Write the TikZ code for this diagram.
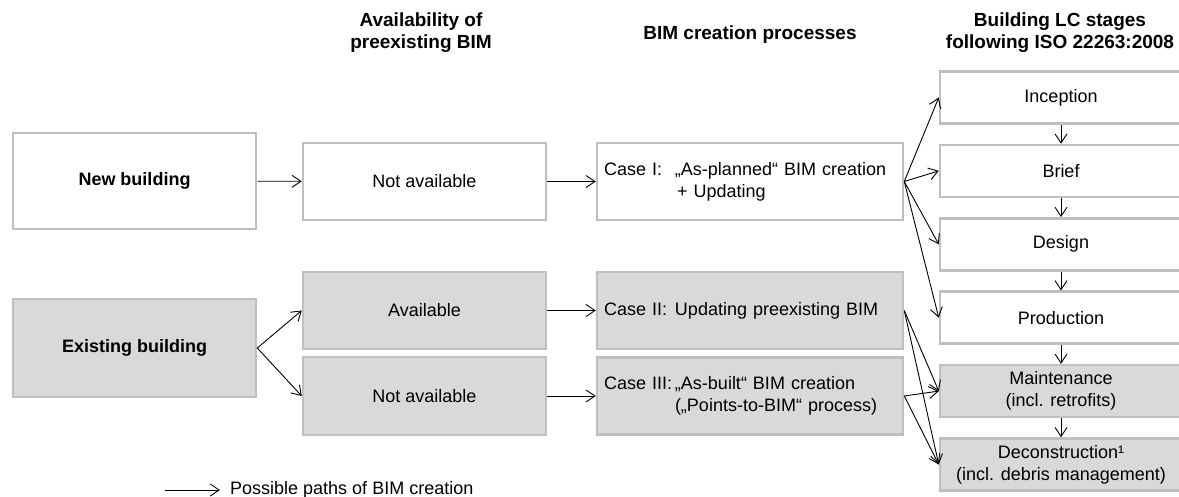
\documentclass[tikz,border=0pt]{standalone}
\usepackage{fontspec}
\setmainfont{Liberation Sans}
\usetikzlibrary{arrows.meta}

\newcommand{\caselabel}[1]{\makebox[71pt][l]{#1}}

\begin{document}
\begin{tikzpicture}[x=1pt, y=-1pt,
box_style/.style={rectangle, draw=gray!50, line width=2.5pt, fill=white, align=center, font=\fontsize{18}{22}\selectfont},
case_style/.style={box_style, align=left, text width=292pt, inner xsep=7pt, minimum height=77pt},
head_style/.style={align=center, font=\fontsize{19}{22}\selectfont\bfseries},
edge_style/.style={-{Straight Barb[length=9pt,width=12pt]}, line width=0.9pt, black},
]
\useasboundingbox (0,0) rectangle (1179,497);

% column headers
\node[head_style] at (421,33) (head_avail) {Availability of\\preexisting BIM};
\node[head_style] at (750,35) (head_case) {BIM creation processes};
\node[head_style] at (1060,33) (head_stage) {Building LC stages\\following ISO 22263:2008};

% building type
\node[box_style, minimum width=243pt, minimum height=96pt] at (134.5,181) (new_bldg) {\bfseries New building};
\node[box_style, fill=gray!30, minimum width=243pt, minimum height=98pt] at (134.5,348) (exist_bldg) {\bfseries Existing building};

% availability
\node[box_style, minimum width=243pt, minimum height=77pt] at (424.5,181.5) (na_new) {Not available};
\node[box_style, fill=gray!30, minimum width=243pt, minimum height=77pt] at (424.5,310.5) (avail) {Available};
\node[box_style, fill=gray!30, minimum width=243pt, minimum height=78pt] at (424.5,396) (na_exist) {Not available};

% creation processes
\node[case_style] at (750,181.5) (case_one) {\mbox{\caselabel{Case I:}„As-planned“ BIM creation}\\\hspace*{73pt}+ Updating};
\node[case_style, fill=gray!30] at (750,310.5) (case_two) {\mbox{\caselabel{Case II:}Updating preexisting BIM}};
\node[case_style, fill=gray!30] at (750,396) (case_three) {\mbox{\caselabel{Case III:}„As-built“ BIM creation}\\\hspace*{71pt}(„Points-to-BIM“ process)};

% life cycle stages
\foreach \name/\txt/\fc [count=\i from 0] in {
    inception/Inception/white,
    brief/Brief/white,
    design/Design/white,
    production/Production/white,
    maint/{Maintenance\\(incl. retrofits)}/gray!30,
    decon/{Deconstruction¹\\(incl. debris management)}/gray!30}{
    \node[box_style, fill=\fc, minimum width=242pt, minimum height=52pt] at (1061,97.5+73.4*\i) (\name) {\txt};
}

% paths
\draw[edge_style] (new_bldg) -- (na_new);
\draw[edge_style] (na_new) -- (case_one);
\draw[edge_style] (exist_bldg.east) -- (avail.west);
\draw[edge_style] (exist_bldg.east) -- (na_exist.west);
\draw[edge_style] (avail) -- (case_two);
\draw[edge_style] (na_exist) -- (case_three);

\foreach \s in {inception,brief,design,production}
    \draw[edge_style] (case_one.east) -- (\s.west);
\foreach \c in {case_two,case_three}{
    \draw[edge_style] (\c.east) -- (maint.west);
    \draw[edge_style] (\c.east) -- (decon.west);
}

\draw[edge_style] (inception) -- (brief);
\draw[edge_style] (brief) -- (design);
\draw[edge_style] (design) -- (production);
\draw[edge_style] (production) -- (maint);
\draw[edge_style] (maint) -- (decon);

% legend
\coordinate (leg_start) at (165,490);
\node[anchor=west, inner xsep=10pt, font=\fontsize{18}{22}\selectfont] at (220,490) (legend) {Possible paths of BIM creation};
\draw[edge_style] (leg_start) -- (legend.west);

\end{tikzpicture}
\end{document}
